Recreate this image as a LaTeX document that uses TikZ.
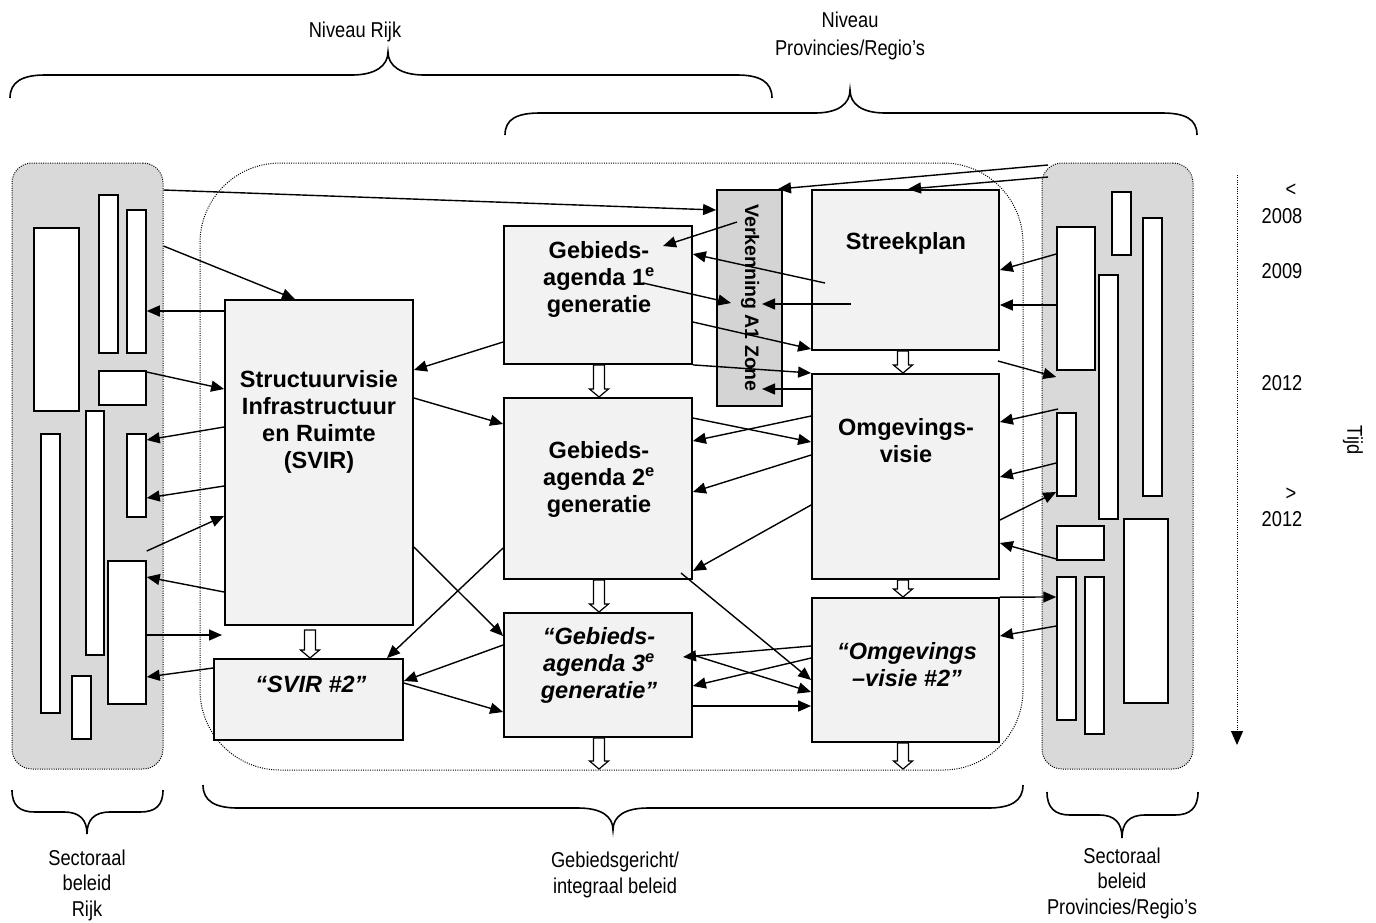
\documentclass[tikz,border=0pt]{standalone}
\usepackage{fontspec}
\setmainfont{Liberation Sans}
\newfontfamily\lblfont[FakeStretch=0.85]{Liberation Sans}
\usetikzlibrary{arrows.meta,calc}
\definecolor{panelgray}{HTML}{D9D9D9}
\definecolor{boxfill}{HTML}{F2F2F2}
\definecolor{verkgray}{HTML}{D4D4D4}
\newcommand\mkbox[6]{\node[#1, minimum width={(#5-#3)*1pt}, minimum height={(#6-#4)*1pt}] (#2) at ({(#3+#5)/2},{(#4+#6)/2}) {};}
\newcommand\hollowarr[3]{\draw[hollowarrow] ({#1-5.5},{#2}) -- ({#1+5.5},{#2}) -- ({#1+5.5},{#3-8}) -- ({#1+9.5},{#3-8}) -- ({#1},{#3}) -- ({#1-9.5},{#3-8}) -- ({#1-5.5},{#3-8}) -- cycle;}
\begin{document}
\begin{tikzpicture}[x=1pt,y=-1pt,
  panel/.style={draw, fill=panelgray, dash pattern=on 1pt off 1.3pt, line width=1pt, rounded corners=20pt, inner sep=0},
  region/.style={draw, dash pattern=on 1pt off 1.3pt, line width=1pt, rounded corners=80pt, inner sep=0},
  srect/.style={draw, fill=white, line width=1.5pt, inner sep=0},
  mbox/.style={draw, fill=boxfill, line width=1.8pt, inner sep=0},
  vbox/.style={mbox, fill=verkgray},
  btxt/.style={font=\fontsize{23.5}{27}\selectfont\bfseries, align=center, inner sep=0},
  itxt/.style={font=\fontsize{23.5}{27}\selectfont\bfseries\itshape, align=center, inner sep=0},
  ltxt/.style={font=\lblfont\fontsize{21.5}{25.5}\selectfont, align=center, inner sep=0},
  conn/.style={line width=1.4pt, -{Triangle[length=13pt,width=11pt]}},
  hollowarrow/.style={draw, fill=white, line width=1.2pt},
  brace/.style={line width=1.6pt},
]
\useasboundingbox (0,0) rectangle (1376,922);

% panels and region
\mkbox{panel}{lpanel}{12}{163}{163}{769}
\mkbox{panel}{rpanel}{1042}{163}{1193}{769}
\mkbox{region}{creg}{200}{163}{1023}{770}

% left sector rects
\mkbox{srect}{la}{34}{228}{79}{411}
\mkbox{srect}{lb}{99}{195}{118}{353}
\mkbox{srect}{lc}{127}{210}{146}{353}
\mkbox{srect}{ld}{99}{371}{146}{405}
\mkbox{srect}{le}{86}{411}{104}{655}
\mkbox{srect}{lf}{41}{434}{60}{713}
\mkbox{srect}{lg}{127}{434}{146}{517}
\mkbox{srect}{lh}{108}{561}{146}{704}
\mkbox{srect}{li}{72}{676}{91}{739}

% right sector rects
\mkbox{srect}{ra}{1057}{227}{1095}{370}
\mkbox{srect}{rb}{1112}{192}{1131}{255}
\mkbox{srect}{rc}{1099}{275}{1118}{519}
\mkbox{srect}{rd}{1143}{218}{1162}{496}
\mkbox{srect}{re}{1057}{413}{1076}{496}
\mkbox{srect}{rf}{1057}{526}{1104}{560}
\mkbox{srect}{rg}{1124}{519}{1168}{703}
\mkbox{srect}{rh}{1057}{577}{1076}{720}
\mkbox{srect}{ri}{1085}{577}{1104}{734}

% main boxes
\mkbox{mbox}{svir}{225}{300}{413}{625}
\mkbox{mbox}{svir2}{214}{659}{403}{740}
\mkbox{mbox}{ga1}{504}{226}{692}{364}
\mkbox{mbox}{ga2}{504}{398}{692}{579}
\mkbox{mbox}{ga3}{504}{613}{692}{737}
\mkbox{vbox}{verk}{717}{190}{782}{406}
\mkbox{mbox}{sp}{812}{190}{999}{350}
\mkbox{mbox}{ov}{812}{374}{999}{579}
\mkbox{mbox}{ov2}{812}{598}{999}{742}

% box texts
\node[btxt] (svirt) at (319,422) {Structuurvisie\\Infrastructuur\\en Ruimte\\(SVIR)};
\node[itxt] (svir2t) at (311,684) {“SVIR \#2”};
\node[btxt] (ga1t) at (599,279) {Gebieds-\\agenda 1\textsuperscript{e}\\generatie};
\node[btxt] (ga2t) at (599,479) {Gebieds-\\agenda 2\textsuperscript{e}\\generatie};
\node[itxt] (ga3t) at (599,665) {“Gebieds-\\agenda 3\textsuperscript{e}\\generatie”};
\node[btxt] (spt) at (906,243) {Streekplan};
\node[btxt] (ovt) at (906,441) {Omgevings-\\visie};
\node[itxt] (ov2t) at (907,665) {“Omgevings\\–visie \#2”};
\node[font=\fontsize{19.5}{22}\selectfont\bfseries, rotate=-90, inner sep=0] (verkt) at (750,298) {Verkenning A1 Zone};

% hollow arrows
\hollowarr{310}{630}{658}
\hollowarr{599}{365}{397}
\hollowarr{599}{580}{612}
\hollowarr{599}{738}{769}
\hollowarr{903}{351}{373}
\hollowarr{903}{580}{597}
\hollowarr{903}{743}{769}

% free coordinates
\coordinate (c9) at (222,635);
\coordinate (c18s) at (737,222);
\coordinate (c18e) at (663,246);
\coordinate (c19s) at (825,283);
\coordinate (c20s) at (643,283);
\coordinate (c20e) at (731,303);
\coordinate (c21s) at (851,304);
\coordinate (c21e) at (762,304);
\coordinate (c24e) at (762,389);
\coordinate (c29s) at (681,573);
\coordinate (c30e) at (683,657);
\coordinate (c34s) at (1048,165);
\coordinate (c34e) at (778,189);
\coordinate (c35s) at (1048,177);
\coordinate (c38s) at (998,361);
\coordinate (c39s) at (1058,409);

% connectors
\draw[conn] (lpanel.east |- 0,190) -- (verk.west |- 0,210);
\draw[conn] (lpanel.east |- 0,246) -- (svir.north -| 295,0);
\draw[conn] (svir.west |- 0,311) -- (lc.east |- 0,311);
\draw[conn] (ld.east |- 0,372) -- (svir.west |- 0,389);
\draw[conn] (svir.west |- 0,427) -- (lg.east |- 0,440);
\draw[conn] (svir.west |- 0,486) -- (lg.east |- 0,498);
\draw[conn] (lh.east |- 0,551) -- (svir.west |- 0,516);
\draw[conn] (svir.west |- 0,592) -- (lh.east |- 0,577);
\draw[conn] (lh.east |- 0,635) -- (c9);
\draw[conn] (svir2.west |- 0,668) -- (lh.east |- 0,677);
\draw[conn] (svir.east |- 0,547) -- (ga3.west |- 0,636);
\draw[conn] (ga2.west |- 0,548) -- (svir2.north -| 387,0);
\draw[conn] (ga3.west |- 0,645) -- (svir2.east |- 0,681);
\draw[conn] (svir2.east |- 0,683) -- (ga3.west |- 0,712);
\draw[conn] (ga1.west |- 0,342) -- (svir.east |- 0,370);
\draw[conn] (svir.east |- 0,398) -- (ga2.west |- 0,424);
\draw[conn] (c18s) -- (c18e);
\draw[conn] (c19s) -- (ga1.east |- 0,254);
\draw[conn] (c20s) -- (c20e);
\draw[conn] (c21s) -- (c21e);
\draw[conn] (ga1.east |- 0,322) -- (sp.west |- 0,349);
\draw[conn] (ga1.south east) -- (ov.west |- 0,373);
\draw[conn] (ov.west |- 0,389) -- (c24e);
\draw[conn] (ov.west |- 0,416) -- (ga2.east |- 0,441);
\draw[conn] (ga2.east |- 0,418) -- (ov.west |- 0,442);
\draw[conn] (ov.west |- 0,455) -- (ga2.east |- 0,492);
\draw[conn] (ov.west |- 0,505) -- (ga2.east |- 0,571);
\draw[conn] (c29s) -- (ov2.west |- 0,680);
\draw[conn] (ov2.west |- 0,646) -- (c30e);
\draw[conn] (ga3.east |- 0,655) -- (ov2.west |- 0,692);
\draw[conn] (ov2.west |- 0,658) -- (ga3.east |- 0,686);
\draw[conn] (ga3.east |- 0,706) -- (ov2.west |- 0,706);
\draw[conn] (c34s) -- (c34e);
\draw[conn] (c35s) -- (sp.north -| 908,0);
\draw[conn] (ra.west |- 0,254) -- (sp.east |- 0,270);
\draw[conn] (ra.west |- 0,305) -- (sp.east |- 0,305);
\draw[conn] (c38s) -- (ra.west |- 0,377);
\draw[conn] (c39s) -- (ov.east |- 0,422);
\draw[conn] (re.west |- 0,463) -- (ov.east |- 0,477);
\draw[conn] (ov.east |- 0,520) -- (re.west |- 0,492);
\draw[conn] (rf.west |- 0,559) -- (ov.east |- 0,543);
\draw[conn] (ov2.north east) -- (rh.west |- 0,597);
\draw[conn] (rh.west |- 0,626) -- (ov2.east |- 0,636);

% time axis
\coordinate (ts) at (1237,175);
\coordinate (te) at (1237,745);
\draw[line width=1pt, dash pattern=on 1pt off 1.3pt, -{Triangle[length=14pt,width=12pt]}] (ts) -- (te);
\node[ltxt] (tl1) at (1291,190) {<};
\node[ltxt] (tl2) at (1282,216) {2008};
\node[ltxt] (tl3) at (1282,271) {2009};
\node[ltxt] (tl4) at (1282,383) {2012};
\node[ltxt] (tl5) at (1291,494) {>};
\node[ltxt] (tl6) at (1282,519) {2012};
\node[ltxt, rotate=-90] (tijd) at (1353,440) {Tijd};

% braces
\draw[brace] (10,98) .. controls (10,82) and (22,75) .. (45,75) -- (352,75) .. controls (375,75) and (388,66) .. (388,52) .. controls (388,66) and (401,75) .. (424,75) -- (737,75) .. controls (760,75) and (772,82) .. (772,98);
\draw[brace] (505,135) .. controls (505,119) and (517,113) .. (540,113) -- (815,113) .. controls (838,113) and (850,104) .. (850,90) .. controls (850,104) and (862,113) .. (885,113) -- (1162,113) .. controls (1185,113) and (1197,119) .. (1197,135);
\draw[brace] (12,790) .. controls (12,806) and (20,812) .. (35,812) -- (64,812) .. controls (80,812) and (87,820) .. (87,834) .. controls (87,820) and (94,812) .. (110,812) -- (140,812) .. controls (155,812) and (163,806) .. (163,790);
\draw[brace] (203,785) .. controls (203,801) and (215,808) .. (238,808) -- (578,808) .. controls (601,808) and (613,816) .. (613,830) .. controls (613,816) and (625,808) .. (648,808) -- (988,808) .. controls (1011,808) and (1023,801) .. (1023,785);
\draw[brace] (1047,792) .. controls (1047,808) and (1055,815) .. (1070,815) -- (1099,815) .. controls (1115,815) and (1122,823) .. (1122,838) .. controls (1122,823) and (1129,815) .. (1145,815) -- (1175,815) .. controls (1190,815) and (1198,808) .. (1198,792);

% labels
\node[ltxt] (nrijk) at (355,32) {Niveau Rijk};
\node[ltxt, font=\lblfont\fontsize{21.5}{28}\selectfont] (nprov) at (850,36) {Niveau\\Provincies/Regio’s};
\node[ltxt] (srijk) at (87,885) {Sectoraal\\beleid\\Rijk};
\node[ltxt] (gebl) at (615,875) {Gebiedsgericht/\\integraal beleid};
\node[ltxt] (sprov) at (1122,883) {Sectoraal\\beleid\\Provincies/Regio’s};
\end{tikzpicture}
\end{document}
